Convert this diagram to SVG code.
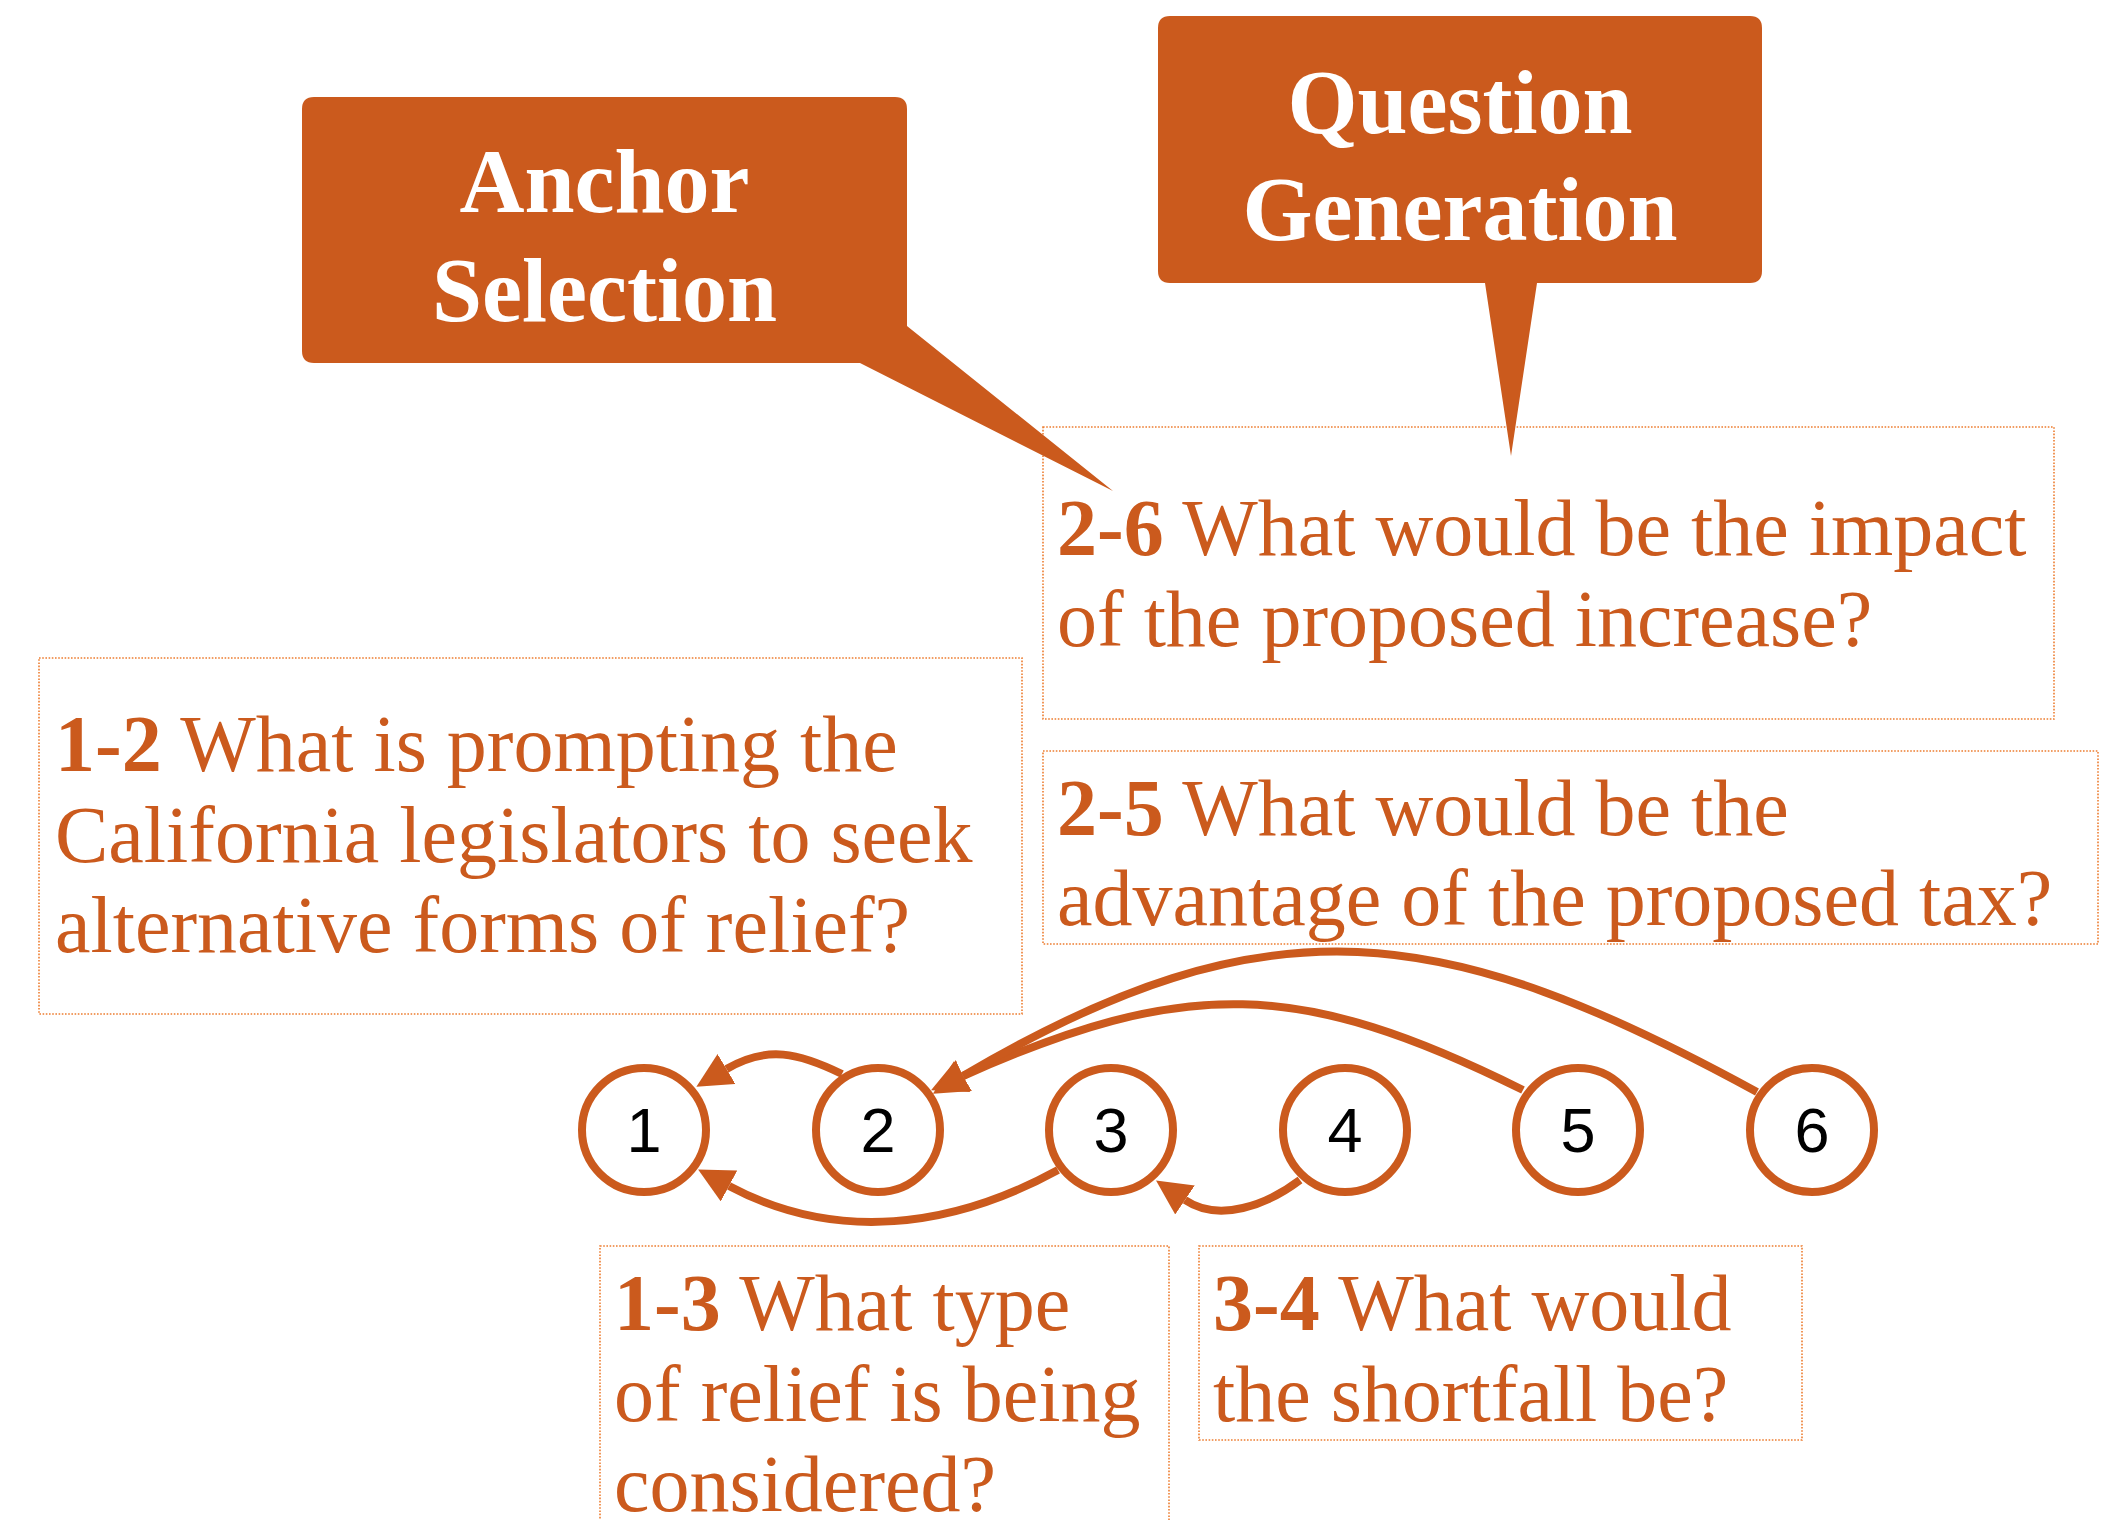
<svg xmlns="http://www.w3.org/2000/svg" width="2106" height="1520" viewBox="0 0 2106 1520">
<style>
.callout{fill:#CB5A1D;}
.ctitle{font-family:"Liberation Serif","Times New Roman",serif;font-weight:bold;font-size:90px;fill:#FFFFFF;text-anchor:middle;}
.qbox{fill:#FFFFFF;stroke:#ED7D31;stroke-width:1.6;stroke-dasharray:1.6 1.6;}
.qtext{font-family:"Liberation Serif","Times New Roman",serif;font-size:80px;fill:#CB5A1D;}
.qtext .b{font-weight:bold;}
.node circle{fill:#FFFFFF;stroke:#CB5A1D;stroke-width:8;}
.node text{font-family:"Liberation Sans",Arial,sans-serif;font-size:63px;fill:#000000;text-anchor:middle;}
.edge{fill:none;stroke:#CB5A1D;stroke-width:8;marker-end:url(#arrow);}
</style>
<defs>
<marker id="arrow" markerUnits="userSpaceOnUse" markerWidth="36" markerHeight="36" refX="0" refY="17.5" orient="auto" viewBox="0 0 36 36">
<path d="M0,0 L35,17.5 L0,35 Z" fill="#CB5A1D"/>
</marker>
</defs>

<g id="box-2-6">
<rect class="qbox" x="1043" y="427" width="1011" height="292"/>
<text class="qtext" x="1057" y="555"><tspan class="b">2-6</tspan> What would be the impact</text>
<text class="qtext" x="1057" y="646">of the proposed increase?</text>
</g>

<g id="box-2-5">
<rect class="qbox" x="1043" y="751" width="1055" height="193"/>
<text class="qtext" x="1057" y="835"><tspan class="b">2-5</tspan> What would be the</text>
<text class="qtext" x="1057" y="925">advantage of the proposed tax?</text>
</g>

<g id="box-1-2">
<rect class="qbox" x="39" y="658" width="983" height="356"/>
<text class="qtext" x="55" y="771"><tspan class="b">1-2</tspan> What is prompting the</text>
<text class="qtext" x="55" y="862">California legislators to seek</text>
<text class="qtext" x="55" y="952">alternative forms of relief?</text>
</g>

<g id="box-1-3">
<rect class="qbox" x="600" y="1246" width="569" height="300"/>
<text class="qtext" x="614" y="1330"><tspan class="b">1-3</tspan> What type</text>
<text class="qtext" x="614" y="1421">of relief is being</text>
<text class="qtext" x="614" y="1511">considered?</text>
</g>

<g id="box-3-4">
<rect class="qbox" x="1199" y="1246" width="603" height="194"/>
<text class="qtext" x="1213" y="1330"><tspan class="b">3-4</tspan> What would</text>
<text class="qtext" x="1213" y="1421">the shortfall be?</text>
</g>

<g id="anchor-selection">
<path class="callout" d="M314,97 H895 Q907,97 907,109 V326 L1113,491 L860,363 H314 Q302,363 302,351 V109 Q302,97 314,97 Z"/>
<text class="ctitle" x="604.5" y="212">Anchor</text>
<text class="ctitle" x="604.5" y="321">Selection</text>
</g>

<g id="question-generation">
<path class="callout" d="M1170,16 H1750 Q1762,16 1762,28 V271 Q1762,283 1750,283 H1537 L1511,456 L1485,283 H1170 Q1158,283 1158,271 V28 Q1158,16 1170,16 Z"/>
<text class="ctitle" x="1460" y="133">Question</text>
<text class="ctitle" x="1460" y="240">Generation</text>
</g>

<g id="connectors">
<path class="edge" d="M842,1074 C799,1053 767,1045 726.5,1069"/>
<path class="edge" d="M1058,1170 C952,1228 836,1243 729,1186"/>
<path class="edge" d="M1300,1180 C1267,1205 1219,1223 1185,1200"/>
<path class="edge" d="M1523,1090 C1300,979 1185,977 963,1076"/>
<path class="edge" d="M1757,1092 C1444,921 1270,895 963,1076"/>
</g>

<g id="node-1" class="node"><circle cx="644" cy="1130" r="62"/><text x="644" y="1152">1</text></g>
<g id="node-2" class="node"><circle cx="878" cy="1130" r="62"/><text x="878" y="1152">2</text></g>
<g id="node-3" class="node"><circle cx="1111" cy="1130" r="62"/><text x="1111" y="1152">3</text></g>
<g id="node-4" class="node"><circle cx="1345" cy="1130" r="62"/><text x="1345" y="1152">4</text></g>
<g id="node-5" class="node"><circle cx="1578" cy="1130" r="62"/><text x="1578" y="1152">5</text></g>
<g id="node-6" class="node"><circle cx="1812" cy="1130" r="62"/><text x="1812" y="1152">6</text></g>
</svg>
